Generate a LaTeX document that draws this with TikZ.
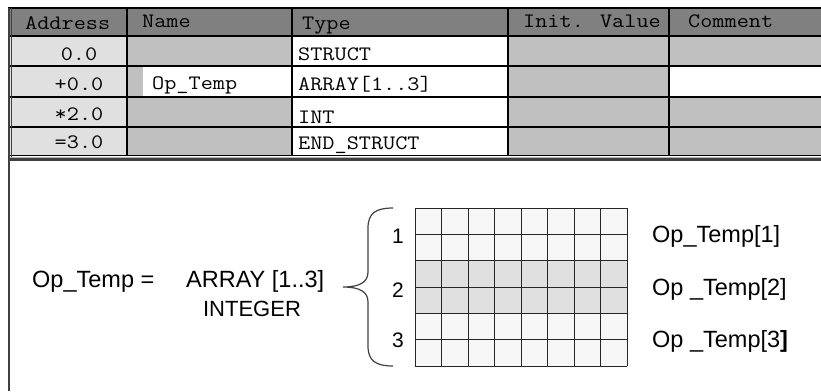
\documentclass[tikz,border=0pt]{standalone}
\usepackage{fontspec}
\setmainfont{Liberation Sans}
\newfontfamily\tabfont[FakeStretch=1.15]{Latin Modern Mono}
\definecolor{hdr}{HTML}{808080}
\definecolor{addr}{HTML}{E0E0E0}
\definecolor{cellgray}{HTML}{C0C0C0}
\definecolor{frame}{HTML}{404040}
\definecolor{gridlight}{HTML}{F7F7F7}
\definecolor{gridmid}{HTML}{E0E0E0}
\tikzset{
  tabtxt/.style={inner sep=0pt, font=\tabfont\fontsize{20.5}{24}\selectfont},
  bigtxt/.style={inner sep=0pt, font=\fontsize{23.5}{28}\selectfont},
  numtxt/.style={inner sep=0pt, font=\fontsize{21}{25}\selectfont},
  rowline/.style={black, line width=1.4pt},
  gridline/.style={black!85, line width=1pt},
}
\begin{document}
\begin{tikzpicture}[x=1pt,y=-1pt]
\useasboundingbox (0,0) rectangle (821,391);
% ---- table backgrounds
\fill[hdr] (10,8) rectangle (821,36);
\fill[addr] (10,36) rectangle (127,156);
\fill[cellgray] (127,36) rectangle (292,156);
\fill[white] (143,66) rectangle (292,97);
\fill[white] (292,36) rectangle (508,156);
\fill[cellgray] (508,36) rectangle (821,156);
\fill[white] (669,66) rectangle (821,97);
% ---- row separators
\foreach \yy in {36,66,97,127}{ \draw[rowline] (10,\yy) -- (821,\yy); }
% ---- column separators
\foreach \xx in {127,292,508,669}{ \draw[rowline] (\xx,8) -- (\xx,156); }
% ---- frame
\draw[black, line width=2pt] (8,8) -- (821,8);
\draw[black, line width=1.4pt] (10,155.5) -- (821,155.5);
\fill[frame] (8,157.8) rectangle (821,160.5);
\draw[hdr!60, line width=0.6pt] (8,157.3) -- (821,157.3);
\draw[frame, line width=2pt] (9,8) -- (9,391);
\draw[frame, line width=0.8pt] (11.8,8) -- (11.8,157);
% ---- header texts
\node[tabtxt, anchor=base west] (hAddr) at (25,29) {Address};
\node[tabtxt, anchor=base west] (hName) at (142,27) {Name};
\node[tabtxt, anchor=base west] (hType) at (302,29) {Type};
\node[tabtxt, anchor=base west] (hInit) at (523,27) {Init. Value};
\node[tabtxt, anchor=base west] (hCom) at (688,27) {Comment};
% ---- row texts
\node[tabtxt, anchor=base] (a1) at (79,60) {0.0};
\node[tabtxt, anchor=base] (a2) at (79,90) {+0.0};
\node[tabtxt, anchor=base] (a3) at (79,120) {*2.0};
\node[tabtxt, anchor=base] (a4) at (79,148) {=3.0};
\node[tabtxt, anchor=base west] (n2) at (152,89) {Op\_Temp};
\node[tabtxt, anchor=base west] (t1) at (298,60) {STRUCT};
\node[tabtxt, anchor=base west] (t2) at (298,90) {ARRAY[1..3]};
\node[tabtxt, anchor=base west] (t3) at (298,123) {INT};
\node[tabtxt, anchor=base west] (t4) at (298,149) {END\_STRUCT};
% ---- lower diagram texts
\node[bigtxt, anchor=base west] (opt) at (32,287) {Op\_Temp =};
\node[bigtxt, anchor=base west] (arr) at (186,287) {ARRAY [1..3]};
\node[bigtxt, anchor=base, font=\fontsize{22}{26}\selectfont] (int) at (252,316) {INTEGER};
% ---- brace
\draw[frame, line width=1.2pt] (393,208) .. controls (376,208) and (368,213) .. (368,228)
  -- (368,272) .. controls (368,282) and (360,287) .. (343,287)
  .. controls (360,287) and (368,292) .. (368,302)
  -- (368,346) .. controls (368,361) and (376,366) .. (393,366);
% ---- grid
\fill[gridlight] (415,208) rectangle (627,366);
\fill[gridmid] (415,260.7) rectangle (627,313.3);
\foreach \i in {0,...,8}{ \draw[gridline] ({415+\i*26.5},208) -- ({415+\i*26.5},366); }
\foreach \j in {0,...,6}{ \draw[gridline] (415,{208+\j*26.333}) -- (627,{208+\j*26.333}); }
% ---- index numbers
\node[numtxt, anchor=base] (i1) at (398,243) {1};
\node[numtxt, anchor=base] (i2) at (398,297) {2};
\node[numtxt, anchor=base] (i3) at (398,347) {3};
% ---- element labels
\node[bigtxt, anchor=base west] (e1) at (652,242) {Op\_Temp[1]};
\node[bigtxt, anchor=base west] (e2) at (652,295) {Op \_Temp[2]};
\node[bigtxt, anchor=base west] (e3) at (652,347) {Op \_Temp[3\textbf{]}};
\end{tikzpicture}
\end{document}
